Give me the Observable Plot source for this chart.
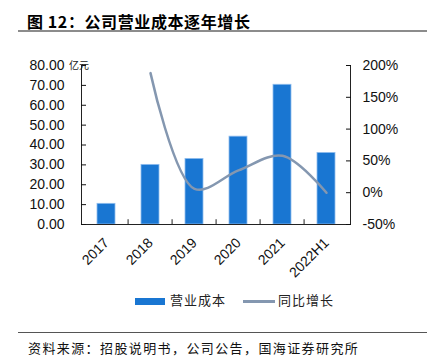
<!DOCTYPE html>
<html><head><meta charset="utf-8">
<script src="https://cdn.jsdelivr.net/npm/d3@7"></script>
<script src="https://cdn.jsdelivr.net/npm/@observablehq/plot@0.6"></script>
<style>
body{margin:0;background:#fff;width:427px;height:361px;position:relative;overflow:hidden;font-family:"Liberation Sans",Arial,sans-serif;}
.abs{position:absolute;white-space:nowrap;}
#title{left:27px;top:9px;font:bold 16px "Noto Sans CJK SC",sans-serif;letter-spacing:0.6px;color:#000;}
#tline{left:18px;top:30px;width:409px;height:2px;background:#8c8c8c;}
#chart{left:0;top:40px;}
#unit{left:69px;top:57px;font:10px "Noto Sans CJK SC",sans-serif;color:#222;}
#legend{left:0;top:290px;font:13px "Noto Sans CJK SC",sans-serif;letter-spacing:1px;color:#222;}
#fline{left:18px;top:332px;width:409px;height:1px;background:#555;}
#foot{left:28px;top:338px;font:13px "Noto Sans CJK SC",sans-serif;letter-spacing:1.4px;color:#111;}
</style></head>
<body>
<div id="title" class="abs">图 12：公司营业成本逐年增长</div>
<div id="tline" class="abs"></div>
<div id="chart" class="abs"></div>
<div id="unit" class="abs">亿元</div>
<div id="legend" class="abs"></div>
<div id="fline" class="abs"></div>
<div id="foot" class="abs">资料来源：招股说明书，公司公告，国海证券研究所</div>
<script>
const categories = ["2017","2018","2019","2020","2021","2022H1"];
const cost = [10.4, 30.0, 33.0, 44.2, 70.3, 36.0];           // 营业成本 (亿元)
const growthCats = ["2018","2019","2020","2021","2022H1"];
const growth = [188, 6, 35, 58, 0];                          // 同比增长 (%)
const leftTicks = [0,10,20,30,40,50,60,70,80];
const rightTicks = [-50,0,50,100,150,200];

const barColor = "#1976D2";
const lineColor = "#8497B0";

const W = 427, H = 250, ML = 81, MR = 77, MT = 25, MB = 66;
const leftMax = 80, rMin = -50, rMax = 200;
const toLeft = p => (p - rMin) / (rMax - rMin) * leftMax;
const toRight = v => Math.round(v / leftMax * (rMax - rMin) + rMin);

const barData = categories.map((c,i)=>({c, v: cost[i]}));
const lineData = growthCats.map((c,i)=>({c, g: growth[i]}));
const step = (W - ML - MR) / categories.length;

const chart = Plot.plot({
  width: W, height: H,
  marginLeft: ML, marginRight: MR, marginTop: MT, marginBottom: MB,
  style: {fontFamily: '"Liberation Sans", Arial, sans-serif', fontSize: "14px", color: "#111", background: "transparent"},
  x: {domain: categories, paddingInner: 0.6, paddingOuter: 0.3, label: null},
  y: {domain: [0, leftMax], label: null},
  marks: [
    Plot.barY(barData, {x: "c", y: "v", fill: barColor, stroke: "#8fbdee", strokeWidth: 0.8}),
    Plot.line(lineData, {x: "c", y: d => toLeft(d.g), stroke: lineColor, strokeWidth: 2.5, curve: "catmull-rom"}),
    Plot.frame({anchor: "left", stroke: "#222"}),
    Plot.frame({anchor: "right", stroke: "#222"}),
    Plot.frame({anchor: "bottom", stroke: "#222"}),
    Plot.ruleX(categories.slice(1), {x: d => d, dx: -step/2, y1: 0, y2: 2.4, stroke: "#222"}),
    Plot.axisY({anchor: "left", ticks: leftTicks, tickFormat: d => d.toFixed(2), tickSize: -5, tickPadding: 22, fontSize: 14}),
    Plot.axisY(rightTicks.map(toLeft), {anchor: "right", tickFormat: d => toRight(d) + "%", tickSize: -5, tickPadding: 17, fontSize: 14}),
    Plot.axisX({anchor: "bottom", tickSize: 0, tickRotate: -45, tickPadding: 16, fontSize: 14, label: null})
  ]
});
document.getElementById("chart").appendChild(chart);

// legend
const leg = d3.select("#legend");
const items = [{name:"营业成本", type:"bar", x:135}, {name:"同比增长", type:"line", x:243}];
items.forEach(it => {
  if (it.type === "bar") leg.append("div").attr("class","abs").style("left", it.x+"px").style("top","8px").style("width","30px").style("height","7px").style("background", barColor);
  else leg.append("div").attr("class","abs").style("left", it.x+"px").style("top","10px").style("width","32px").style("height","2.5px").style("background", lineColor);
  leg.append("div").attr("class","abs").style("left", (it.x+35)+"px").style("top","0px").text(it.name);
});
</script>
</body></html>
